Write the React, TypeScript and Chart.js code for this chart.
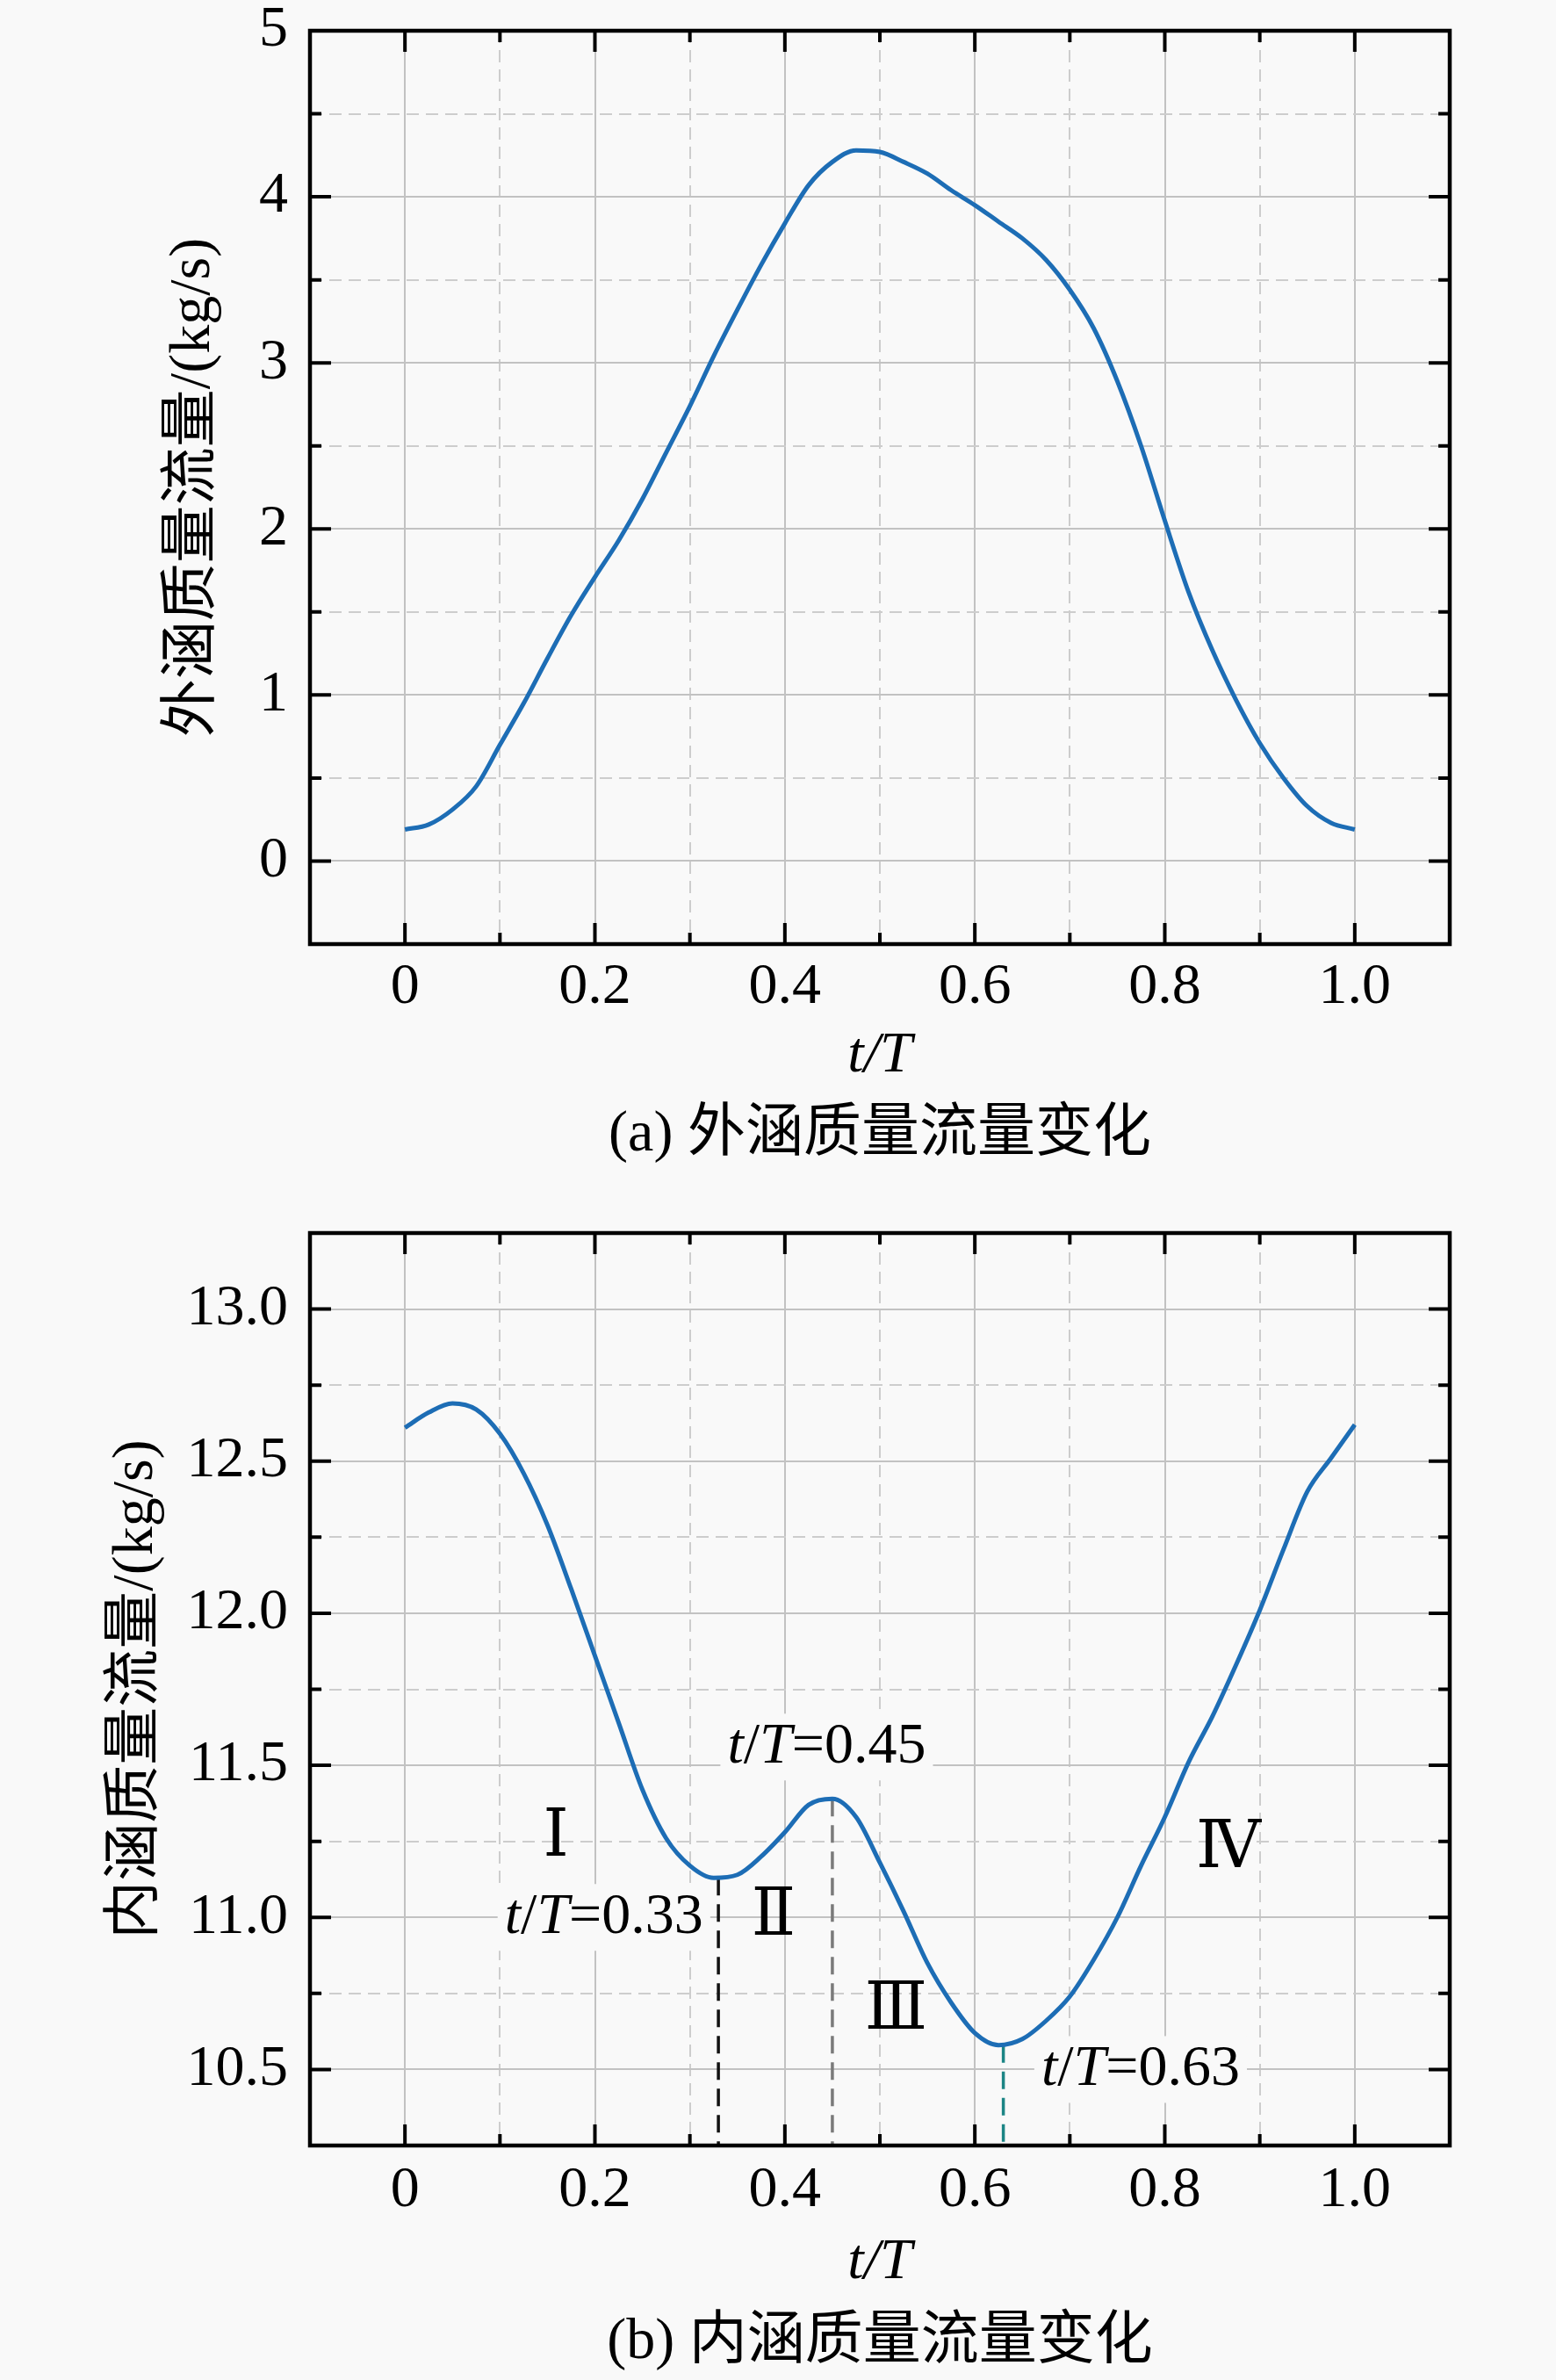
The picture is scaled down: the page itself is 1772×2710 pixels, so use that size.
import React, { useEffect, useRef } from 'react';
import { Chart, registerables } from 'chart.js';

Chart.register(...registerables);

// t/T sample points shared by both curves
const tValues = [
  0, 0.025, 0.05, 0.075, 0.1, 0.125, 0.15, 0.175, 0.2, 0.225,
  0.25, 0.275, 0.3, 0.325, 0.35, 0.375, 0.4, 0.425, 0.45, 0.475,
  0.5, 0.525, 0.55, 0.575, 0.6, 0.625, 0.65, 0.675, 0.7, 0.725,
  0.75, 0.775, 0.8, 0.825, 0.85, 0.875, 0.9, 0.925, 0.95, 0.975, 1.0,
];

// (a) 外涵质量流量, kg/s
const bypassFlow = [
  0.19, 0.22, 0.31, 0.45, 0.70, 0.95, 1.22, 1.48, 1.71, 1.93,
  2.18, 2.46, 2.74, 3.04, 3.32, 3.59, 3.84, 4.07, 4.21, 4.28,
  4.27, 4.21, 4.14, 4.04, 3.95, 3.85, 3.75, 3.62, 3.44, 3.21,
  2.89, 2.50, 2.05, 1.62, 1.27, 0.97, 0.71, 0.50, 0.33, 0.23, 0.19,
];

// (b) 内涵质量流量, kg/s
const coreFlow = [
  12.61, 12.66, 12.69, 12.67, 12.59, 12.46, 12.29, 12.08, 11.86, 11.64,
  11.42, 11.26, 11.17, 11.13, 11.14, 11.20, 11.28, 11.37, 11.39, 11.33,
  11.18, 11.02, 10.85, 10.72, 10.62, 10.58, 10.60, 10.66, 10.74, 10.86,
  11.00, 11.17, 11.33, 11.51, 11.66, 11.83, 12.01, 12.21, 12.40, 12.51, 12.62,
];

// grid positions and tick labels ('' = minor, dashed grid line)
const xGrid = [-0.1, 0, 0.1, 0.2, 0.3, 0.4, 0.5, 0.6, 0.7, 0.8, 0.9, 1.0, 1.1];
const xTickLabels = ['', '0', '', '0.2', '', '0.4', '', '0.6', '', '0.8', '', '1.0', ''];

const yGridA = [-0.5, 0, 0.5, 1, 1.5, 2, 2.5, 3, 3.5, 4, 4.5, 5];
const yTickLabelsA = ['', '0', '', '1', '', '2', '', '3', '', '4', '', '5'];

const yGridB = [10.25, 10.5, 10.75, 11, 11.25, 11.5, 11.75, 12, 12.25, 12.5, 12.75, 13, 13.25];
const yTickLabelsB = ['', '10.5', '', '11.0', '', '11.5', '', '12.0', '', '12.5', '', '13.0', ''];

// phase markers in panel (b)
const markerT = [0.33, 0.45, 0.63];
const markerFlow = [11.13, 11.39, 10.58];
const markerColors = ['#111111', '#7a7a7a', '#1c8585'];
const markerLabelT = [0.314, 0.444, 0.67];
const markerLabelFlow = [11.0, 11.56, 10.5];
const markerLabelAlign = ['right', 'center', 'left'];

const phaseNames = ['Ⅰ', 'Ⅱ', 'Ⅲ', 'Ⅳ'];
const phaseT = [0.159, 0.388, 0.517, 0.867];
const phaseFlow = [11.26, 11.0, 10.69, 11.22];

const PAGE_BG = '#f9f9f9';
const FONT_FAMILY = '"Liberation Serif", "Noto Sans CJK SC", serif';
const FONT_SIZE = 66;

const framePlugin = {
  id: 'frameTicks',
  afterDraw(chart: any) {
    const { ctx, chartArea, scales } = chart;
    const { left, right, top, bottom } = chartArea;
    const xs = scales.x;
    const ys = scales.y;
    const opts = chart.options.plugins.frameTicks;
    const xLabels: string[] = opts.xLabels;
    const yLabels: string[] = opts.yLabels;
    ctx.save();
    ctx.strokeStyle = '#000';
    ctx.lineWidth = 4;
    ctx.beginPath();
    xs.ticks.forEach((t: any, i: number) => {
      if (i === 0 || i === xs.ticks.length - 1) return;
      const len = xLabels[i] ? 24 : 13;
      const px = xs.getPixelForValue(t.value);
      ctx.moveTo(px, bottom);
      ctx.lineTo(px, bottom - len);
      ctx.moveTo(px, top);
      ctx.lineTo(px, top + len);
    });
    ys.ticks.forEach((t: any, i: number) => {
      if (i === 0 || i === ys.ticks.length - 1) return;
      const len = yLabels[i] ? 24 : 13;
      const py = ys.getPixelForValue(t.value);
      ctx.moveTo(left, py);
      ctx.lineTo(left + len, py);
      ctx.moveTo(right, py);
      ctx.lineTo(right - len, py);
    });
    ctx.stroke();
    ctx.lineWidth = 4.5;
    ctx.strokeRect(left, top, right - left, bottom - top);
    // caption under the axis title
    ctx.fillStyle = '#000';
    ctx.font = `${FONT_SIZE}px ${FONT_FAMILY}`;
    ctx.textAlign = 'center';
    ctx.textBaseline = 'middle';
    ctx.fillText(opts.caption, (left + right) / 2, bottom + opts.captionOffset);
    ctx.restore();
  },
};

function drawRatioLabel(ctx: CanvasRenderingContext2D, value: string, x: number, y: number, align: string) {
  const parts: [string, boolean][] = [['t', true], ['/', false], ['T', true], ['=' + value, false]];
  const fontOf = (italic: boolean) => `${italic ? 'italic ' : ''}${FONT_SIZE}px ${FONT_FAMILY}`;
  const widths = parts.map(([s, it]) => {
    ctx.font = fontOf(it);
    return ctx.measureText(s).width;
  });
  const total = widths.reduce((a, b) => a + b, 0);
  let start = x;
  if (align === 'center') start = x - total / 2;
  if (align === 'right') start = x - total;
  ctx.fillStyle = PAGE_BG;
  ctx.fillRect(start - 8, y - 38, total + 16, 76);
  ctx.fillStyle = '#000';
  ctx.textAlign = 'left';
  ctx.textBaseline = 'middle';
  parts.forEach(([s, it], i) => {
    ctx.font = fontOf(it);
    ctx.fillText(s, start, y);
    start += widths[i];
  });
}

const phasePlugin = {
  id: 'phaseMarks',
  beforeDatasetsDraw(chart: any) {
    const { ctx, chartArea, scales } = chart;
    const xs = scales.x;
    const ys = scales.y;
    ctx.save();
    ctx.lineWidth = 3.5;
    ctx.setLineDash([20, 10]);
    markerT.forEach((t, i) => {
      const px = xs.getPixelForValue(t);
      ctx.strokeStyle = markerColors[i];
      ctx.beginPath();
      ctx.moveTo(px, ys.getPixelForValue(markerFlow[i]));
      ctx.lineTo(px, chartArea.bottom);
      ctx.stroke();
    });
    ctx.setLineDash([]);
    markerT.forEach((t, i) => {
      drawRatioLabel(
        ctx,
        t.toFixed(2),
        xs.getPixelForValue(markerLabelT[i]),
        ys.getPixelForValue(markerLabelFlow[i]),
        markerLabelAlign[i],
      );
    });
    ctx.fillStyle = '#000';
    ctx.font = `74px "Liberation Serif", "DejaVu Serif", serif`;
    ctx.textAlign = 'center';
    ctx.textBaseline = 'middle';
    phaseNames.forEach((name, i) => {
      ctx.fillText(name, xs.getPixelForValue(phaseT[i]), ys.getPixelForValue(phaseFlow[i]));
    });
    ctx.restore();
  },
};

const gridColor = (labels: string[], index: number | undefined) => {
  if (index === undefined) return 'rgba(0,0,0,0)';
  if (index === 0 || index === labels.length - 1) return 'rgba(0,0,0,0)';
  return labels[index] ? '#c2c2c2' : '#cdcdcd';
};

interface PanelProps {
  values: number[];
  yGrid: number[];
  yLabels: string[];
  yTitle: string;
  yTitlePad: number;
  caption: string;
  padTop: number;
  padBottom: number;
  xLabelPad: number;
  xTitlePad: number;
  captionOffset: number;
  withPhases: boolean;
}

const FlowPanel: React.FC<PanelProps> = (props) => {
  const canvasRef = useRef<HTMLCanvasElement | null>(null);
  const chartRef = useRef<Chart | null>(null);

  useEffect(() => {
    const ctx = canvasRef.current?.getContext('2d');
    if (!ctx) return;
    if (chartRef.current) chartRef.current.destroy();

    const font = { family: FONT_FAMILY, size: FONT_SIZE };
    const { yGrid, yLabels } = props;

    chartRef.current = new Chart(ctx, {
      type: 'line',
      data: {
        datasets: [
          {
            data: tValues.map((t, i) => ({ x: t, y: props.values[i] })),
            borderColor: '#1d6db5',
            borderWidth: 5,
            pointRadius: 0,
            cubicInterpolationMode: 'monotone',
            fill: false,
          },
        ],
      },
      options: {
        responsive: false,
        animation: false,
        layout: {
          autoPadding: false,
          padding: { top: props.padTop, right: 121, bottom: props.padBottom, left: 0 },
        },
        plugins: {
          legend: { display: false },
          tooltip: { enabled: false },
          // @ts-ignore custom plugin options
          frameTicks: {
            xLabels: xTickLabels,
            yLabels,
            caption: props.caption,
            captionOffset: props.captionOffset,
          },
        },
        scales: {
          x: {
            type: 'linear',
            min: -0.1,
            max: 1.1,
            afterBuildTicks: (s: any) => {
              s.ticks = xGrid.map((v) => ({ value: v }));
            },
            afterFit: (s: any) => {
              s.height = 180;
              s.paddingLeft = 0;
              s.paddingRight = 0;
            },
            ticks: {
              autoSkip: false,
              maxRotation: 0,
              padding: props.xLabelPad,
              color: '#000',
              font,
              callback: (_v: any, i: number) => xTickLabels[i],
            },
            grid: {
              drawTicks: false,
              lineWidth: 2,
              color: (c: any) => gridColor(xTickLabels, c.index),
            },
            border: {
              display: false,
              dash: (c: any) => (c.tick && !xTickLabels[c.index] ? [14, 8] : []),
            },
            title: {
              display: true,
              text: 't/T',
              color: '#000',
              font: { family: FONT_FAMILY, size: FONT_SIZE, style: 'italic' },
              padding: { top: 0, bottom: props.xTitlePad },
            },
          },
          y: {
            type: 'linear',
            min: yGrid[0],
            max: yGrid[yGrid.length - 1],
            afterBuildTicks: (s: any) => {
              s.ticks = yGrid.map((v) => ({ value: v }));
            },
            afterFit: (s: any) => {
              s.width = 353;
              s.paddingTop = 0;
              s.paddingBottom = 0;
            },
            ticks: {
              autoSkip: false,
              padding: 25,
              color: '#000',
              font,
              callback: (_v: any, i: number) => yLabels[i],
            },
            grid: {
              drawTicks: false,
              lineWidth: 2,
              color: (c: any) => gridColor(yLabels, c.index),
            },
            border: {
              display: false,
              dash: (c: any) => (c.tick && !yLabels[c.index] ? [14, 8] : []),
            },
            title: {
              display: true,
              text: props.yTitle,
              color: '#000',
              font,
              padding: { top: props.yTitlePad, bottom: 0 },
            },
          },
        },
      },
      plugins: props.withPhases ? [framePlugin, phasePlugin] : [framePlugin],
    } as any);

    return () => {
      if (chartRef.current) {
        chartRef.current.destroy();
        chartRef.current = null;
      }
    };
  }, []);

  return (
    <div style={{ width: 1772, height: 1355 }}>
      <canvas ref={canvasRef} width={1772} height={1355} style={{ display: 'block', width: 1772, height: 1355 }}></canvas>
    </div>
  );
};

const App: React.FC = () => {
  useEffect(() => {
    document.body.style.margin = '0';
    document.body.style.background = PAGE_BG;
  }, []);

  return (
    <div style={{ width: 1772, height: 2710, background: PAGE_BG }}>
      <FlowPanel
        values={bypassFlow}
        yGrid={yGridA}
        yLabels={yTickLabelsA}
        yTitle="外涵质量流量/(kg/s)"
        yTitlePad={181}
        caption="(a) 外涵质量流量变化"
        padTop={35}
        padBottom={100}
        xLabelPad={10}
        xTitlePad={13}
        captionOffset={218}
        withPhases={false}
      />
      <FlowPanel
        values={coreFlow}
        yGrid={yGridB}
        yLabels={yTickLabelsB}
        yTitle="内涵质量流量/(kg/s)"
        yTitlePad={116}
        caption="(b) 内涵质量流量变化"
        padTop={49}
        padBottom={87}
        xLabelPad={12}
        xTitlePad={7}
        captionOffset={225}
        withPhases={true}
      />
    </div>
  );
};

export default App;
